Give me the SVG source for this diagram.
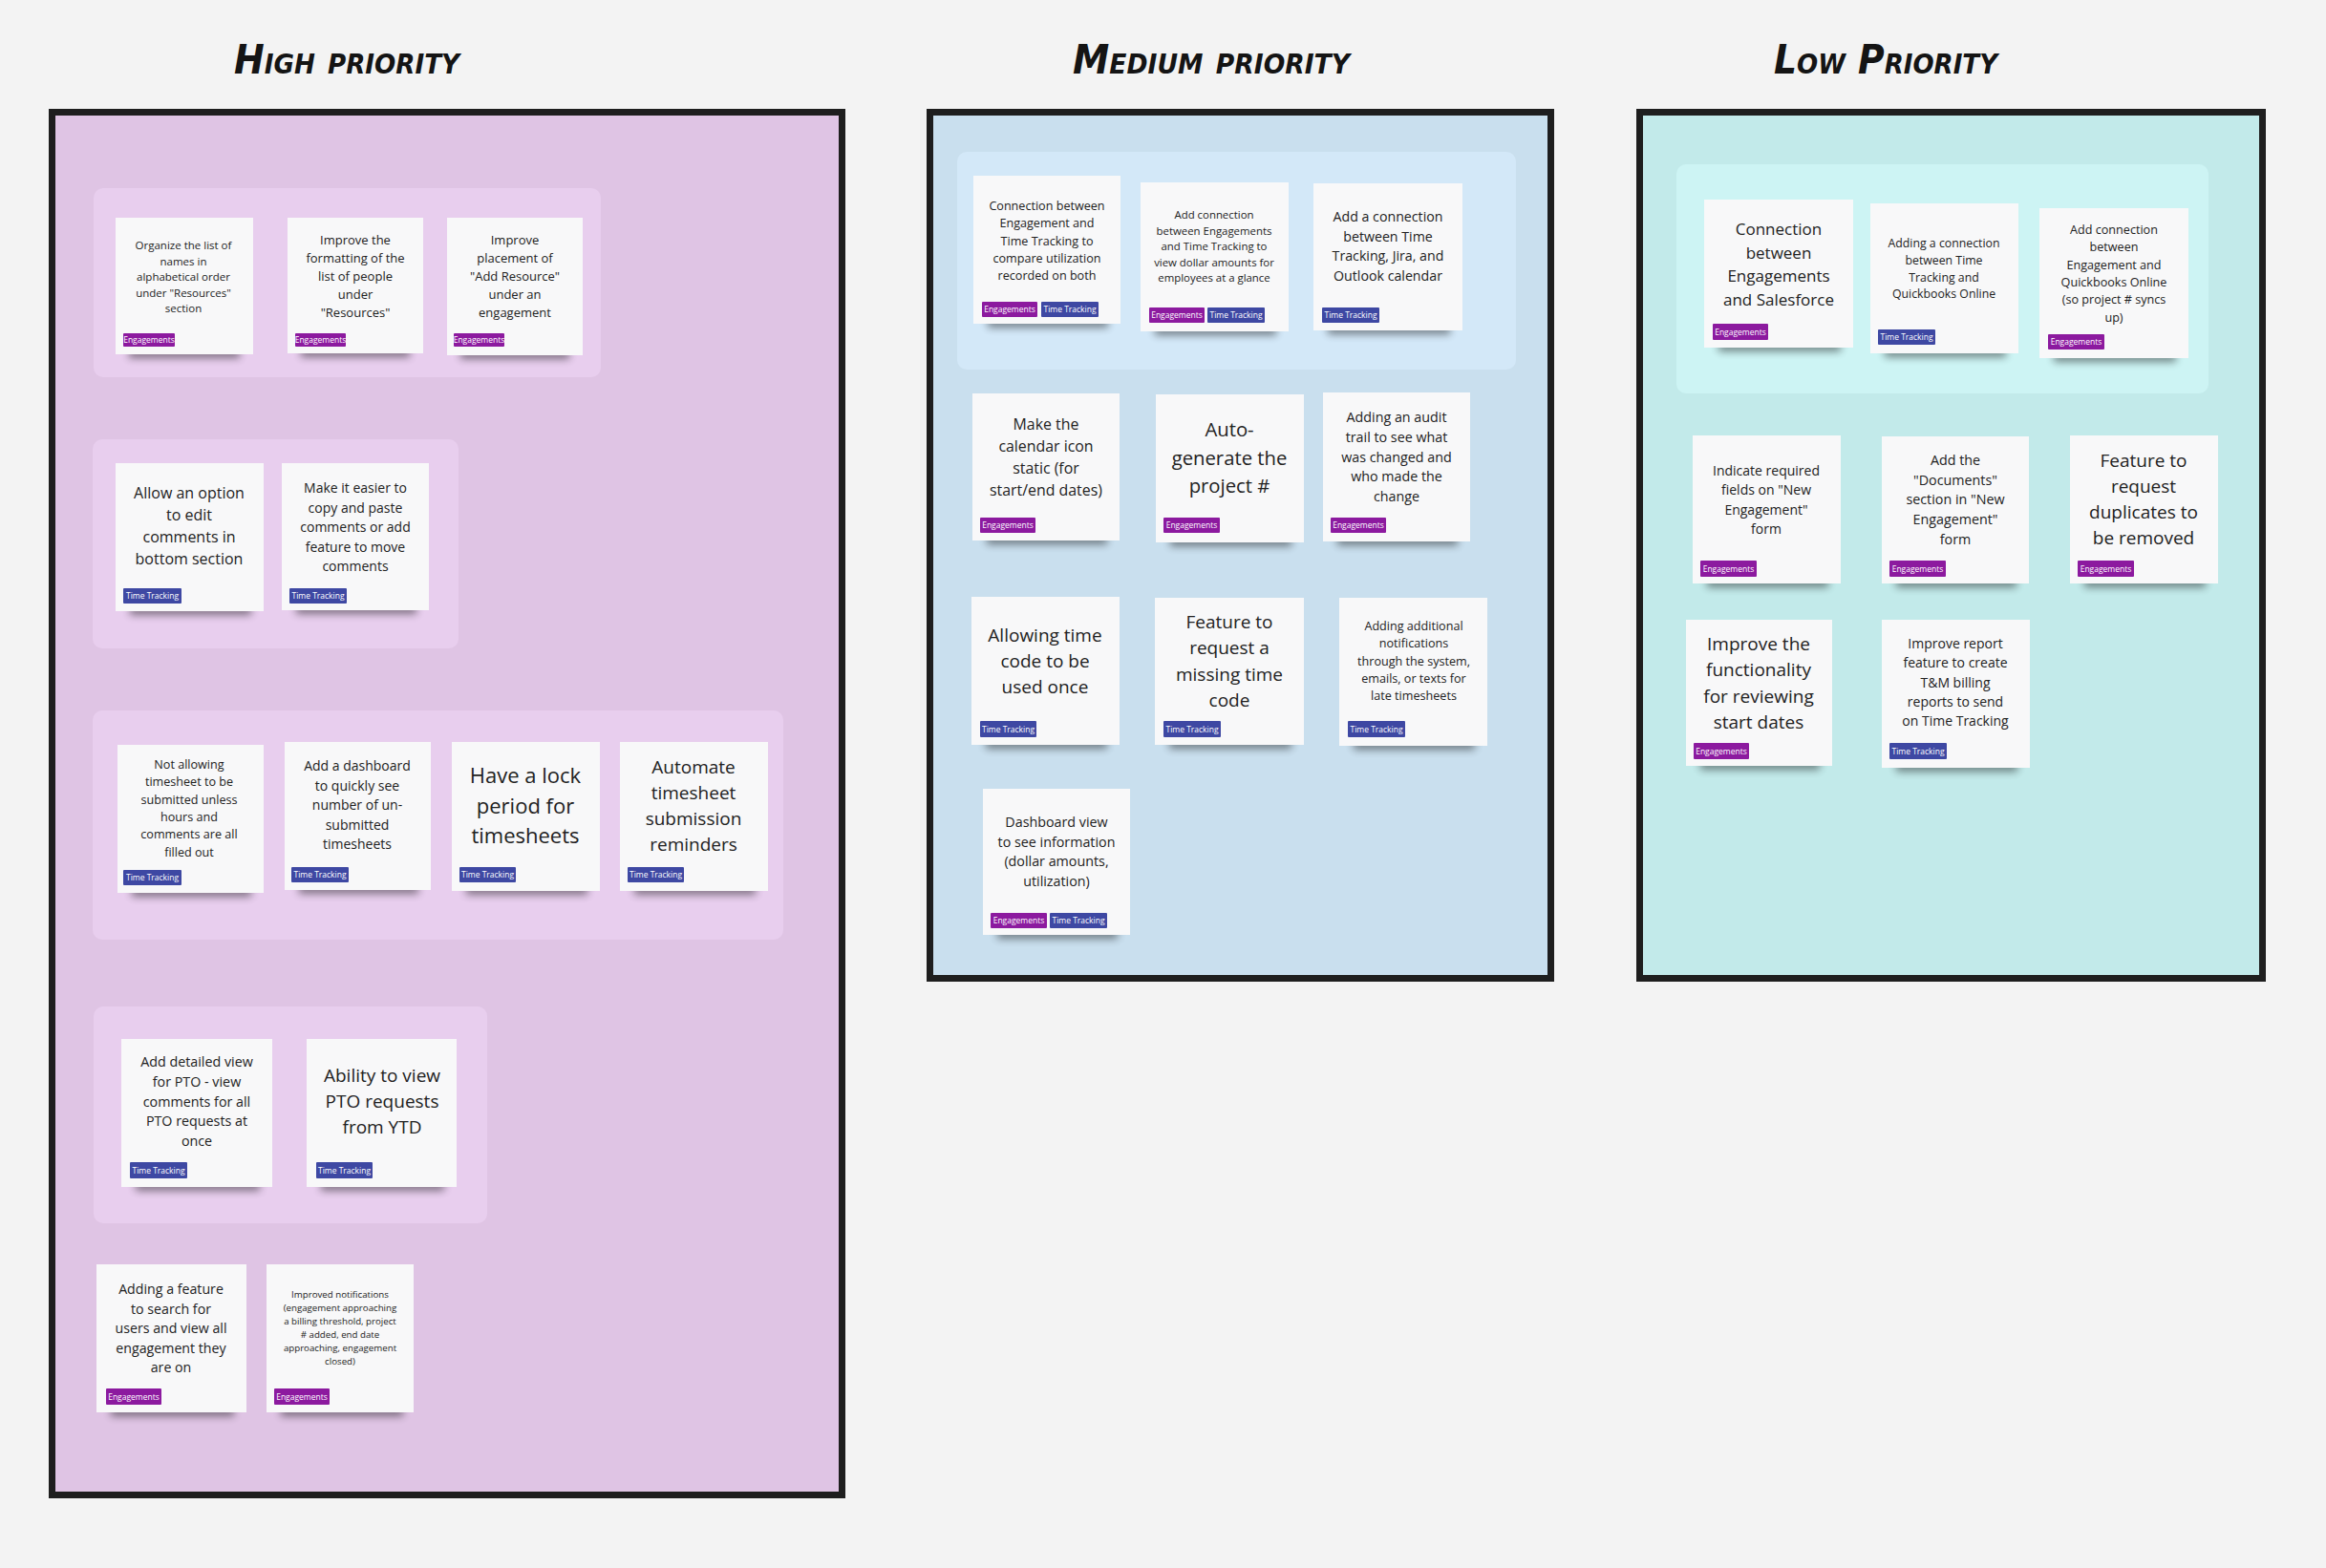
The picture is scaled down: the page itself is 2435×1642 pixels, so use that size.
<svg xmlns="http://www.w3.org/2000/svg" width="2435" height="1642" viewBox="0 0 2435 1642">
<defs>
<filter id="blur" x="-20%" y="-100%" width="140%" height="300%"><feGaussianBlur stdDeviation="4"/></filter>
<style>
.bg{fill:#F3F3F3}
.frame{stroke:#1E1E1E;stroke-width:7}
.fh{fill:#DFC4E4}.fm{fill:#C9DFEE}.fl{fill:#C2EAEA}
.gh{fill:#E8CEEE}.gm{fill:#D3E8F8}.gl{fill:#CDF4F4}
.title{font-family:"DejaVu Sans",sans-serif;font-weight:bold;font-style:italic;font-variant:small-caps;font-size:42px;fill:#141414;text-anchor:middle}
.card{fill:#F8F8F9}
.sh{fill:#000;opacity:.45;filter:url(#blur)}
.t{font-family:"Open Sans","Liberation Sans",sans-serif;fill:#222;text-anchor:middle}
.te{fill:#8C1A9F}.tt{fill:#3E48A3}
.tg{font-family:"Open Sans","Liberation Sans",sans-serif;font-size:8.5px;fill:#fff;text-anchor:middle}
</style>
</defs>
<rect class="bg" x="0" y="0" width="2435" height="1642"/>

<g id="titles">
<text class="title" x="363" y="77" textLength="236" lengthAdjust="spacingAndGlyphs">High priority</text>
<text class="title" x="1268" y="77" textLength="290" lengthAdjust="spacingAndGlyphs">Medium priority</text>
<text class="title" x="1974" y="77" textLength="234" lengthAdjust="spacingAndGlyphs">Low Priority</text>
</g>

<g id="frames">
<rect id="frame-high" class="frame fh" x="54.5" y="117.5" width="827" height="1448"/>
<rect id="frame-medium" class="frame fm" x="973.5" y="117.5" width="650" height="907"/>
<rect id="frame-low" class="frame fl" x="1716.5" y="117.5" width="652" height="907"/>
</g>

<g id="groups">
<rect class="gh" x="98" y="197" width="531" height="198" rx="10"/>
<rect class="gh" x="97" y="460" width="383" height="219" rx="10"/>
<rect class="gh" x="97" y="744" width="723" height="240" rx="10"/>
<rect class="gh" x="98" y="1054" width="412" height="227" rx="10"/>
<rect class="gm" x="1002" y="159" width="585" height="228" rx="10"/>
<rect class="gl" x="1755" y="172" width="557" height="240" rx="10"/>
</g>

<g id="connectors"></g>

<!-- HIGH -->
<g id="h1">
<rect class="sh" x="135" y="365" width="116" height="10"/>
<rect class="card" x="121" y="228" width="144" height="143"/>
<text class="t" font-size="11.5"><tspan x="192" y="261">Organize the list of</tspan><tspan x="192" dy="16.5">names in</tspan><tspan x="192" dy="16.5">alphabetical order</tspan><tspan x="192" dy="16.5">under "Resources"</tspan><tspan x="192" dy="16.5">section</tspan></text>
<rect class="te" x="129" y="349" width="54" height="14" rx="1"/><text class="tg" font-size="8" x="156" y="359">Engagements</text>
</g>
<g id="h2">
<rect class="sh" x="315" y="364" width="114" height="10"/>
<rect class="card" x="301" y="228" width="142" height="142"/>
<text class="t" font-size="13"><tspan x="372" y="256">Improve the</tspan><tspan x="372" dy="19">formatting of the</tspan><tspan x="372" dy="19">list of people</tspan><tspan x="372" dy="19">under</tspan><tspan x="372" dy="19">"Resources"</tspan></text>
<rect class="te" x="309" y="349" width="53" height="14" rx="1"/><text class="tg" font-size="8" x="335.5" y="359">Engagements</text>
</g>
<g id="h3">
<rect class="sh" x="482" y="366" width="114" height="10"/>
<rect class="card" x="468" y="228" width="142" height="144"/>
<text class="t" font-size="13"><tspan x="539" y="256">Improve</tspan><tspan x="539" dy="19">placement of</tspan><tspan x="539" dy="19">"Add Resource"</tspan><tspan x="539" dy="19">under an</tspan><tspan x="539" dy="19">engagement</tspan></text>
<rect class="te" x="475" y="349" width="53" height="14" rx="1"/><text class="tg" font-size="8" x="501.5" y="359">Engagements</text>
</g>

<g id="h4">
<rect class="sh" x="136" y="634" width="127" height="10"/>
<rect class="card" x="121" y="485" width="155" height="155"/>
<text class="t" font-size="16"><tspan x="198" y="522">Allow an option</tspan><tspan x="198" dy="23">to edit</tspan><tspan x="198" dy="23">comments in</tspan><tspan x="198" dy="23">bottom section</tspan></text>
<rect class="tt" x="129" y="616" width="61" height="16" rx="1"/><text class="tg" x="159.5" y="627">Time Tracking</text>
</g>
<g id="h5">
<rect class="sh" x="310" y="633" width="126" height="10"/>
<rect class="card" x="295" y="485" width="154" height="154"/>
<text class="t" font-size="14"><tspan x="372" y="516">Make it easier to</tspan><tspan x="372" dy="20.5">copy and paste</tspan><tspan x="372" dy="20.5">comments or add</tspan><tspan x="372" dy="20.5">feature to move</tspan><tspan x="372" dy="20.5">comments</tspan></text>
<rect class="tt" x="303" y="616" width="60" height="16" rx="1"/><text class="tg" x="333" y="627">Time Tracking</text>
</g>

<g id="h6">
<rect class="sh" x="138" y="929" width="125" height="10"/>
<rect class="card" x="123" y="780" width="153" height="155"/>
<text class="t" font-size="12.6"><tspan x="198" y="805">Not allowing</tspan><tspan x="198" dy="18.3">timesheet to be</tspan><tspan x="198" dy="18.3">submitted unless</tspan><tspan x="198" dy="18.3">hours and</tspan><tspan x="198" dy="18.3">comments are all</tspan><tspan x="198" dy="18.3">filled out</tspan></text>
<rect class="tt" x="129" y="911" width="61" height="16" rx="1"/><text class="tg" x="159.5" y="922">Time Tracking</text>
</g>
<g id="h7">
<rect class="sh" x="313" y="926" width="125" height="10"/>
<rect class="card" x="298" y="777" width="153" height="155"/>
<text class="t" font-size="14"><tspan x="374" y="807">Add a dashboard</tspan><tspan x="374" dy="20.6">to quickly see</tspan><tspan x="374" dy="20.6">number of un-</tspan><tspan x="374" dy="20.6">submitted</tspan><tspan x="374" dy="20.6">timesheets</tspan></text>
<rect class="tt" x="305" y="908" width="60" height="16" rx="1"/><text class="tg" x="335" y="919">Time Tracking</text>
</g>
<g id="h8">
<rect class="sh" x="488" y="927" width="127" height="10"/>
<rect class="card" x="473" y="777" width="155" height="156"/>
<text class="t" font-size="22"><tspan x="550" y="820">Have a lock</tspan><tspan x="550" dy="31.5">period for</tspan><tspan x="550" dy="31.5">timesheets</tspan></text>
<rect class="tt" x="481" y="908" width="59" height="16" rx="1"/><text class="tg" x="510.5" y="919">Time Tracking</text>
</g>
<g id="h9">
<rect class="sh" x="664" y="927" width="127" height="10"/>
<rect class="card" x="649" y="777" width="155" height="156"/>
<text class="t" font-size="19"><tspan x="726" y="810">Automate</tspan><tspan x="726" dy="27">timesheet</tspan><tspan x="726" dy="27">submission</tspan><tspan x="726" dy="27">reminders</tspan></text>
<rect class="tt" x="657" y="908" width="59" height="16" rx="1"/><text class="tg" x="686.5" y="919">Time Tracking</text>
</g>

<g id="h10">
<rect class="sh" x="142" y="1237" width="130" height="10"/>
<rect class="card" x="127" y="1088" width="158" height="155"/>
<text class="t" font-size="14.3"><tspan x="206" y="1117">Add detailed view</tspan><tspan x="206" dy="20.8">for PTO - view</tspan><tspan x="206" dy="20.8">comments for all</tspan><tspan x="206" dy="20.8">PTO requests at</tspan><tspan x="206" dy="20.8">once</tspan></text>
<rect class="tt" x="136" y="1217" width="60" height="17" rx="1"/><text class="tg" x="166" y="1228.5">Time Tracking</text>
</g>
<g id="h11">
<rect class="sh" x="336" y="1237" width="129" height="10"/>
<rect class="card" x="321" y="1088" width="157" height="155"/>
<text class="t" font-size="19"><tspan x="400" y="1133">Ability to view</tspan><tspan x="400" dy="27">PTO requests</tspan><tspan x="400" dy="27">from YTD</tspan></text>
<rect class="tt" x="331" y="1217" width="59" height="17" rx="1"/><text class="tg" x="360.5" y="1228.5">Time Tracking</text>
</g>

<g id="h12">
<rect class="sh" x="116" y="1473" width="129" height="10"/>
<rect class="card" x="101" y="1324" width="157" height="155"/>
<text class="t" font-size="14.2"><tspan x="179" y="1355">Adding a feature</tspan><tspan x="179" dy="20.5">to search for</tspan><tspan x="179" dy="20.5">users and view all</tspan><tspan x="179" dy="20.5">engagement they</tspan><tspan x="179" dy="20.5">are on</tspan></text>
<rect class="te" x="111" y="1454" width="58" height="17" rx="1"/><text class="tg" x="140" y="1465.5">Engagements</text>
</g>
<g id="h13">
<rect class="sh" x="294" y="1473" width="128" height="10"/>
<rect class="card" x="279" y="1324" width="154" height="155"/>
<text class="t" font-size="9.7"><tspan x="356" y="1359">Improved notifications</tspan><tspan x="356" dy="14">(engagement  approaching</tspan><tspan x="356" dy="14">a billing threshold, project</tspan><tspan x="356" dy="14"># added, end date</tspan><tspan x="356" dy="14">approaching, engagement</tspan><tspan x="356" dy="14">closed)</tspan></text>
<rect class="te" x="287" y="1454" width="58" height="17" rx="1"/><text class="tg" x="316" y="1465.5">Engagements</text>
</g>

<!-- MEDIUM -->
<g id="m1">
<rect class="sh" x="1034" y="333" width="126" height="10"/>
<rect class="card" x="1019" y="184" width="154" height="155"/>
<text class="t" font-size="12.6"><tspan x="1096" y="220">Connection between</tspan><tspan x="1096" dy="18.3">Engagement and</tspan><tspan x="1096" dy="18.3">Time Tracking to</tspan><tspan x="1096" dy="18.3">compare utilization</tspan><tspan x="1096" dy="18.3">recorded on both</tspan></text>
<rect class="te" x="1028" y="316" width="58" height="16" rx="1"/><text class="tg" x="1057" y="327">Engagements</text>
<rect class="tt" x="1090" y="316" width="60" height="16" rx="1"/><text class="tg" x="1120" y="327">Time Tracking</text>
</g>
<g id="m2">
<rect class="sh" x="1209" y="341" width="127" height="10"/>
<rect class="card" x="1194" y="191" width="155" height="156"/>
<text class="t" font-size="11.4"><tspan x="1271" y="229">Add connection</tspan><tspan x="1271" dy="16.5">between Engagements</tspan><tspan x="1271" dy="16.5">and Time Tracking  to</tspan><tspan x="1271" dy="16.5">view dollar amounts for</tspan><tspan x="1271" dy="16.5">employees at a glance</tspan></text>
<rect class="te" x="1203" y="322" width="58" height="16" rx="1"/><text class="tg" x="1232" y="333">Engagements</text>
<rect class="tt" x="1264" y="322" width="60" height="16" rx="1"/><text class="tg" x="1294" y="333">Time Tracking</text>
</g>
<g id="m3">
<rect class="sh" x="1390" y="340" width="128" height="10"/>
<rect class="card" x="1375" y="192" width="156" height="154"/>
<text class="t" font-size="14.2"><tspan x="1453" y="232">Add a connection</tspan><tspan x="1453" dy="20.6">between Time</tspan><tspan x="1453" dy="20.6">Tracking, Jira, and</tspan><tspan x="1453" dy="20.6">Outlook calendar</tspan></text>
<rect class="tt" x="1384" y="322" width="60" height="16" rx="1"/><text class="tg" x="1414" y="333">Time Tracking</text>
</g>
<g id="m4">
<rect class="sh" x="1033" y="560" width="126" height="10"/>
<rect class="card" x="1018" y="412" width="154" height="154"/>
<text class="t" font-size="15.9"><tspan x="1095" y="450">Make the</tspan><tspan x="1095" dy="23">calendar icon</tspan><tspan x="1095" dy="23">static (for</tspan><tspan x="1095" dy="23">start/end dates)</tspan></text>
<rect class="te" x="1026" y="542" width="58" height="16" rx="1"/><text class="tg" x="1055" y="553">Engagements</text>
</g>
<g id="m5">
<rect class="sh" x="1225" y="562" width="127" height="10"/>
<rect class="card" x="1210" y="413" width="155" height="155"/>
<text class="t" font-size="20.3"><tspan x="1287" y="457">Auto-</tspan><tspan x="1287" dy="29.5">generate the</tspan><tspan x="1287" dy="29.5">project #</tspan></text>
<rect class="te" x="1218" y="542" width="59" height="16" rx="1"/><text class="tg" x="1247.5" y="553">Engagements</text>
</g>
<g id="m6">
<rect class="sh" x="1400" y="561" width="126" height="10"/>
<rect class="card" x="1385" y="411" width="154" height="156"/>
<text class="t" font-size="14.3"><tspan x="1462" y="442">Adding an audit</tspan><tspan x="1462" dy="20.8">trail to see what</tspan><tspan x="1462" dy="20.8">was changed and</tspan><tspan x="1462" dy="20.8">who made the</tspan><tspan x="1462" dy="20.8">change</tspan></text>
<rect class="te" x="1393" y="542" width="58" height="16" rx="1"/><text class="tg" x="1422" y="553">Engagements</text>
</g>
<g id="m7">
<rect class="sh" x="1032" y="774" width="127" height="10"/>
<rect class="card" x="1017" y="625" width="155" height="155"/>
<text class="t" font-size="19"><tspan x="1094" y="672">Allowing time</tspan><tspan x="1094" dy="27">code to be</tspan><tspan x="1094" dy="27">used once</tspan></text>
<rect class="tt" x="1026" y="755" width="59" height="17" rx="1"/><text class="tg" x="1055.5" y="766.5">Time Tracking</text>
</g>
<g id="m8">
<rect class="sh" x="1224" y="774" width="128" height="10"/>
<rect class="card" x="1209" y="626" width="156" height="154"/>
<text class="t" font-size="19"><tspan x="1287" y="658">Feature to</tspan><tspan x="1287" dy="27.3">request a</tspan><tspan x="1287" dy="27.3">missing time</tspan><tspan x="1287" dy="27.3">code</tspan></text>
<rect class="tt" x="1218" y="755" width="60" height="17" rx="1"/><text class="tg" x="1248" y="766.5">Time Tracking</text>
</g>
<g id="m9">
<rect class="sh" x="1417" y="775" width="127" height="10"/>
<rect class="card" x="1402" y="626" width="155" height="155"/>
<text class="t" font-size="12.6"><tspan x="1480" y="660">Adding additional</tspan><tspan x="1480" dy="18.3">notifications</tspan><tspan x="1480" dy="18.3">through the system,</tspan><tspan x="1480" dy="18.3">emails, or texts for</tspan><tspan x="1480" dy="18.3">late timesheets</tspan></text>
<rect class="tt" x="1411" y="755" width="60" height="17" rx="1"/><text class="tg" x="1441" y="766.5">Time Tracking</text>
</g>
<g id="m10">
<rect class="sh" x="1044" y="973" width="126" height="10"/>
<rect class="card" x="1029" y="826" width="154" height="153"/>
<text class="t" font-size="14.3"><tspan x="1106" y="866">Dashboard view</tspan><tspan x="1106" dy="20.7">to see information</tspan><tspan x="1106" dy="20.7">(dollar amounts,</tspan><tspan x="1106" dy="20.7">utilization)</tspan></text>
<rect class="te" x="1037" y="956" width="59" height="16" rx="1"/><text class="tg" x="1066.5" y="967">Engagements</text>
<rect class="tt" x="1099" y="956" width="60" height="16" rx="1"/><text class="tg" x="1129" y="967">Time Tracking</text>
</g>

<!-- LOW -->
<g id="l1">
<rect class="sh" x="1799" y="358" width="128" height="10"/>
<rect class="card" x="1784" y="209" width="156" height="155"/>
<text class="t" font-size="17"><tspan x="1862" y="246">Connection</tspan><tspan x="1862" dy="24.7">between</tspan><tspan x="1862" dy="24.7">Engagements</tspan><tspan x="1862" dy="24.7">and Salesforce</tspan></text>
<rect class="te" x="1793" y="339" width="58" height="17" rx="1"/><text class="tg" x="1822" y="350.5">Engagements</text>
</g>
<g id="l2">
<rect class="sh" x="1973" y="364" width="127" height="10"/>
<rect class="card" x="1958" y="213" width="155" height="157"/>
<text class="t" font-size="12.3"><tspan x="2035" y="259">Adding a connection</tspan><tspan x="2035" dy="17.8">between Time</tspan><tspan x="2035" dy="17.8">Tracking and</tspan><tspan x="2035" dy="17.8">Quickbooks Online</tspan></text>
<rect class="tt" x="1966" y="345" width="60" height="16" rx="1"/><text class="tg" x="1996" y="356">Time Tracking</text>
</g>
<g id="l3">
<rect class="sh" x="2150" y="369" width="128" height="10"/>
<rect class="card" x="2135" y="218" width="156" height="157"/>
<text class="t" font-size="12.6"><tspan x="2213" y="245">Add connection</tspan><tspan x="2213" dy="18.3">between</tspan><tspan x="2213" dy="18.3">Engagement and</tspan><tspan x="2213" dy="18.3">Quickbooks Online</tspan><tspan x="2213" dy="18.3">(so project # syncs</tspan><tspan x="2213" dy="18.3">up)</tspan></text>
<rect class="te" x="2144" y="350" width="59" height="16" rx="1"/><text class="tg" x="2173.5" y="361">Engagements</text>
</g>
<g id="l4">
<rect class="sh" x="1787" y="605" width="127" height="10"/>
<rect class="card" x="1772" y="456" width="155" height="155"/>
<text class="t" font-size="14"><tspan x="1849" y="498">Indicate required</tspan><tspan x="1849" dy="20.3">fields on "New</tspan><tspan x="1849" dy="20.3">Engagement"</tspan><tspan x="1849" dy="20.3">form</tspan></text>
<rect class="te" x="1780" y="587" width="59" height="17" rx="1"/><text class="tg" x="1809.5" y="598.5">Engagements</text>
</g>
<g id="l5">
<rect class="sh" x="1985" y="605" width="126" height="10"/>
<rect class="card" x="1970" y="457" width="154" height="154"/>
<text class="t" font-size="14.3"><tspan x="2047" y="487">Add the</tspan><tspan x="2047" dy="20.7">"Documents"</tspan><tspan x="2047" dy="20.7">section in "New</tspan><tspan x="2047" dy="20.7">Engagement"</tspan><tspan x="2047" dy="20.7">form</tspan></text>
<rect class="te" x="1978" y="587" width="59" height="17" rx="1"/><text class="tg" x="2007.5" y="598.5">Engagements</text>
</g>
<g id="l6">
<rect class="sh" x="2182" y="605" width="127" height="10"/>
<rect class="card" x="2167" y="456" width="155" height="155"/>
<text class="t" font-size="19"><tspan x="2244" y="489">Feature to</tspan><tspan x="2244" dy="27">request</tspan><tspan x="2244" dy="27">duplicates to</tspan><tspan x="2244" dy="27">be removed</tspan></text>
<rect class="te" x="2175" y="587" width="59" height="17" rx="1"/><text class="tg" x="2204.5" y="598.5">Engagements</text>
</g>
<g id="l7">
<rect class="sh" x="1780" y="796" width="125" height="10"/>
<rect class="card" x="1765" y="649" width="153" height="153"/>
<text class="t" font-size="19"><tspan x="1841" y="681">Improve the</tspan><tspan x="1841" dy="27.3">functionality</tspan><tspan x="1841" dy="27.3">for reviewing</tspan><tspan x="1841" dy="27.3">start dates</tspan></text>
<rect class="te" x="1773" y="778" width="58" height="17" rx="1"/><text class="tg" x="1802" y="789.5">Engagements</text>
</g>
<g id="l8">
<rect class="sh" x="1985" y="798" width="127" height="10"/>
<rect class="card" x="1970" y="649" width="155" height="155"/>
<text class="t" font-size="14"><tspan x="2047" y="679">Improve report</tspan><tspan x="2047" dy="20.3">feature to create</tspan><tspan x="2047" dy="20.3">T&amp;M billing</tspan><tspan x="2047" dy="20.3">reports to send</tspan><tspan x="2047" dy="20.3">on Time Tracking</tspan></text>
<rect class="tt" x="1978" y="778" width="60" height="17" rx="1"/><text class="tg" x="2008" y="789.5">Time Tracking</text>
</g>
</svg>
